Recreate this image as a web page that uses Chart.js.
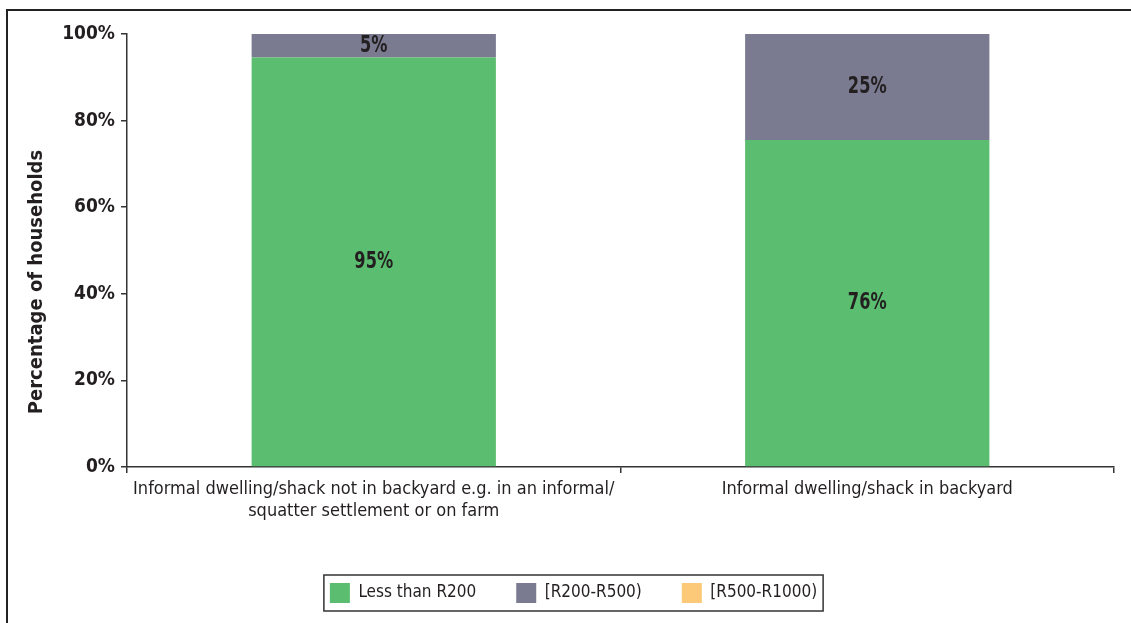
<!DOCTYPE html>
<html>
<head>
<meta charset="utf-8">
<script src="https://cdn.jsdelivr.net/npm/chart.js@4"></script>
<style>
  html, body { margin: 0; padding: 0; background: #fff; overflow: hidden; }
  #frame { position: absolute; left: 6px; top: 9px; width: 1200px; height: 700px;
           border-top: 2px solid #222; border-left: 2px solid #222; }
  #wrap { position: absolute; left: 0; top: 0; width: 1131px; height: 623px; }
</style>
</head>
<body>
<div id="frame"></div>
<div id="wrap"><canvas id="chart" width="1131" height="623"></canvas></div>
<script>
const categories = [
  ['Informal dwelling/shack not in backyard e.g. in an informal/', 'squatter settlement or on farm'],
  'Informal dwelling/shack in backyard'
]
const seriesNames = ['Less than R200', '[R200-R500)', '[R500-R1000)']
const lessThanR200 = [94.6, 75.5]
const r200to500 = [5.4, 24.5]
const r500to1000 = [0, 0]
const yTicks = [0, 20, 40, 60, 80, 100]

const COLORS = ['#5BBD6F', '#7A7B90', '#FBC978']
const FONT = "'Liberation Sans Narrow', 'DejaVu Sans Condensed', 'Liberation Sans', sans-serif"

// values written in the middle of each segment (a bit stretched, like the condensed print font)
const segmentLabels = {
  id: 'segmentLabels',
  afterDatasetsDraw(chart) {
    const ctx = chart.ctx
    chart.data.datasets.forEach((ds, i) => {
      const meta = chart.getDatasetMeta(i)
      meta.data.forEach((bar, j) => {
        const v = ds.data[j]
        if (v < 1) return
        ctx.save()
        ctx.translate(bar.x, (bar.y + bar.base) / 2)
        ctx.scale(1, 1.25)
        ctx.font = `bold 18px ${FONT}`
        ctx.fillStyle = '#231f20'
        ctx.textAlign = 'center'
        ctx.textBaseline = 'middle'
        ctx.fillText(`${Math.round(v)}%`, 0, 0)
        ctx.restore()
      })
    })
  }
}

// box round the legend
const legendFrame = {
  id: 'legendFrame',
  afterDraw(chart) {
    const lg = chart.legend
    if (!lg || !lg.legendHitBoxes.length) return
    const hb = lg.legendHitBoxes
    const left = Math.min(...hb.map(h => h.left)) - 6
    const right = Math.max(...hb.map(h => h.left + h.width)) + 6
    const top = hb[0].top - 8
    const ctx = chart.ctx
    ctx.save()
    ctx.strokeStyle = '#333'
    ctx.lineWidth = 1.5
    ctx.strokeRect(left, top, right - left, 36)
    ctx.restore()
  }
}

new Chart(document.getElementById('chart'), {
  type: 'bar',
  data: {
    labels: categories,
    datasets: [
      { label: seriesNames[0], data: lessThanR200, backgroundColor: COLORS[0] },
      { label: seriesNames[1], data: r200to500, backgroundColor: COLORS[1] },
      { label: seriesNames[2], data: r500to1000, backgroundColor: COLORS[2] },
    ].map(d => ({ ...d, categoryPercentage: 1, barPercentage: 0.495, borderWidth: 0 }))
  },
  options: {
    responsive: false,
    animation: false,
    layout: { padding: { left: 33, right: 17, top: 34, bottom: 10 } },
    plugins: {
      tooltip: { enabled: false },
      legend: {
        position: 'bottom',
        labels: {
          boxWidth: 20, boxHeight: 20, padding: 40,
          color: '#231f20',
          font: { family: FONT, size: 17 }
        }
      }
    },
    scales: {
      x: {
        stacked: true,
        afterFit: s => { s.height = 76 },
        grid: { drawOnChartArea: false, tickLength: 6, color: '#333', lineWidth: 1.5 },
        border: { color: '#333', width: 1.5 },
        ticks: { color: '#231f20', padding: 6, maxRotation: 0, autoSkip: false,
                 font: { family: FONT, size: 18, lineHeight: 1.2 } }
      },
      y: {
        stacked: true,
        min: 0, max: 100,
        afterFit: s => { s.width = 94 },
        afterBuildTicks: s => { s.ticks = yTicks.map(v => ({ value: v })) },
        grid: { drawOnChartArea: false, tickLength: 6, color: '#333', lineWidth: 1.5 },
        border: { color: '#333', width: 1.5 },
        ticks: { color: '#231f20', padding: 6, callback: v => `${v}%`,
                 font: { family: FONT, size: 19, weight: 'bold' } },
        title: {
          display: true,
          text: 'Percentage of households\u2002\u2002\u2002\u2002\u2002\u2002\u2002',
          color: '#231f20',
          padding: { top: -8, bottom: 0 },
          font: { family: FONT, size: 20, weight: 'bold' }
        }
      }
    }
  },
  plugins: [segmentLabels, legendFrame]
})
</script>
</body>
</html>
